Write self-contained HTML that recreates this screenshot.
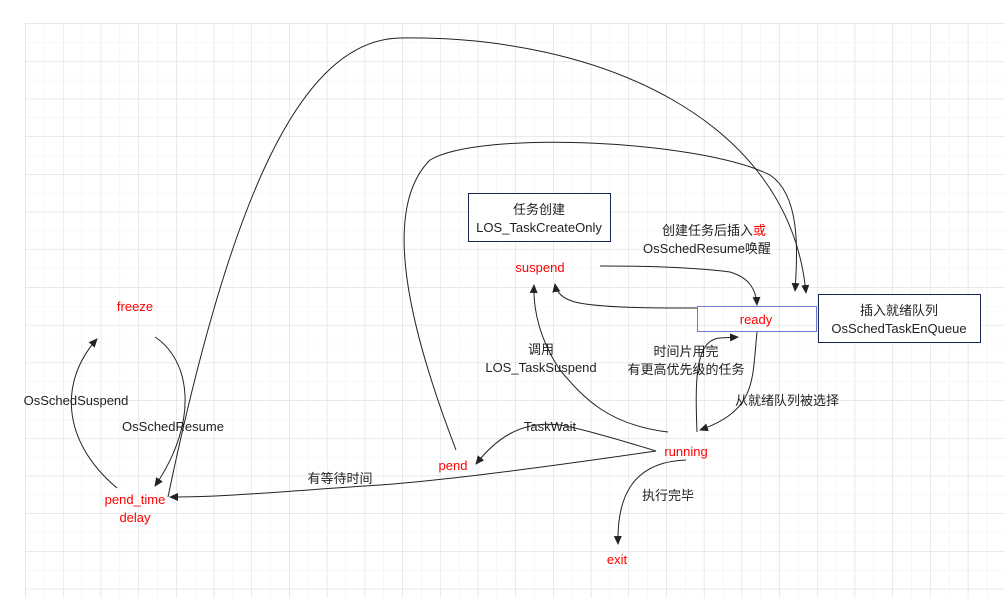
<!DOCTYPE html>
<html><head><meta charset="utf-8"><style>
html,body{margin:0;padding:0;background:#fff;}
svg{display:block;}
text{font-family:"Liberation Sans","Noto Sans CJK SC",sans-serif;font-size:13px;}
</style></head><body>
<svg width="1005" height="598" viewBox="0 0 1005 598" xmlns="http://www.w3.org/2000/svg">
<defs>
<pattern id="minor" x="25.3" y="23.3" width="18.85" height="18.85" patternUnits="userSpaceOnUse">
<path d="M0,0 H18.85 M0,0 V18.85" stroke="#efefef" stroke-width="1" fill="none"/>
</pattern>
<pattern id="major" x="25.3" y="23.3" width="37.7" height="37.7" patternUnits="userSpaceOnUse">
<path d="M0,0 H37.7 M0,0 V37.7" stroke="#dadada" stroke-width="1" fill="none"/>
</pattern>
<marker id="a" markerWidth="10" markerHeight="10" refX="8" refY="5" orient="auto" markerUnits="userSpaceOnUse">
<path d="M0,1 L9,5 L0,9 Z" fill="#222"/>
</marker>
</defs>
<rect x="25" y="23" width="980" height="575" fill="url(#minor)"/>
<rect x="25" y="23" width="980" height="575" fill="url(#major)"/>

<g fill="none" stroke="#222" stroke-width="1">
<!-- big outer curve -->
<path d="M168,497 C 230,200 300,40 400,38 C 600,35 790,120 806,293" marker-end="url(#a)"/>
<!-- pend to ready -->
<path d="M456,450 C 410,330 380,210 430,160 C 480,130 700,140 770,175 C 800,195 798,250 795,291" marker-end="url(#a)"/>
<!-- suspend to ready -->
<path d="M600,266 C 650,266 700,268 730,272 C 750,278 756,290 757,305" marker-end="url(#a)"/>
<!-- ready to suspend -->
<path d="M697,308 C 650,308 600,308 575,302 C 560,298 556,290 555,284" marker-end="url(#a)"/>
<!-- running to suspend -->
<path d="M668,432 C 610,425 585,400 560,370 C 540,340 533,310 534,285" marker-end="url(#a)"/>
<!-- running to ready -->
<path d="M697,432 C 695,380 695,340 720,338 L738,337" marker-end="url(#a)"/>
<!-- ready to running -->
<path d="M757,332 C 752,380 757,410 700,430" marker-end="url(#a)"/>
<!-- running to pend -->
<path d="M656,451 C 620,440 580,428 560,425 C 520,420 495,440 476,464" marker-end="url(#a)"/>
<!-- running to pend_time -->
<path d="M656,451 C 560,465 450,480 380,485 C 300,490 230,497 170,497" marker-end="url(#a)"/>
<!-- pend_time to freeze -->
<path d="M117,488 C 60,440 60,380 97,339" marker-end="url(#a)"/>
<!-- freeze to pend_time -->
<path d="M155,337 C 190,360 200,420 155,486" marker-end="url(#a)"/>
<!-- running to exit -->
<path d="M686,460 C 630,462 617,500 618,544" marker-end="url(#a)"/>
</g>

<rect x="468.5" y="193.5" width="142" height="48" fill="#fff" stroke="#1a2550" stroke-width="1"/>
<text x="539" y="214" text-anchor="middle" fill="#222">任务创建</text>
<text x="539" y="232" text-anchor="middle" fill="#222">LOS_TaskCreateOnly</text>

<rect x="697.5" y="306.5" width="119" height="25" fill="none" stroke="#6a7bd8" stroke-width="1"/>
<rect x="818.5" y="294.5" width="162" height="48" fill="#fff" stroke="#1a2550" stroke-width="1"/>
<text x="899" y="315" text-anchor="middle" fill="#222">插入就绪队列</text>
<text x="899" y="333" text-anchor="middle" fill="#222">OsSchedTaskEnQueue</text>

<text x="714" y="235" text-anchor="middle" fill="#222">创建任务后插入<tspan fill="#ff0000">或</tspan></text>
<text x="707" y="253" text-anchor="middle" fill="#222">OsSchedResume唤醒</text>

<g fill="#ff0000" text-anchor="middle">
<text x="540" y="272">suspend</text>
<text x="135" y="311">freeze</text>
<text x="756" y="324">ready</text>
<text x="453" y="470">pend</text>
<text x="686" y="456">running</text>
<text x="135" y="504">pend_time</text>
<text x="135" y="522">delay</text>
<text x="617" y="564">exit</text>
</g>
<g fill="#222" text-anchor="middle">
<text x="541" y="354">调用</text>
<text x="541" y="372">LOS_TaskSuspend</text>
<text x="686" y="356">时间片用完</text>
<text x="686" y="374">有更高优先级的任务</text>
<text x="787" y="405">从就绪队列被选择</text>
<text x="76" y="405">OsSchedSuspend</text>
<text x="173" y="431">OsSchedResume</text>
<text x="550" y="431">TaskWait</text>
<text x="340" y="483">有等待时间</text>
<text x="668" y="500">执行完毕</text>
</g>
</svg>
</body></html>
